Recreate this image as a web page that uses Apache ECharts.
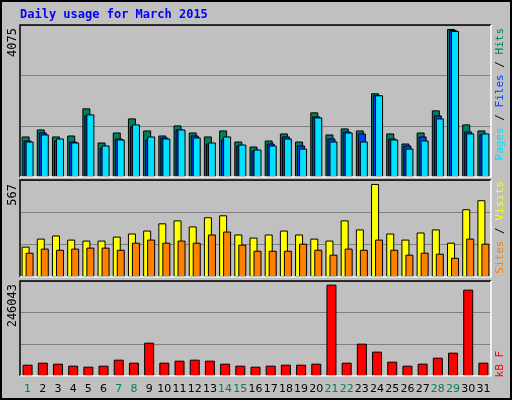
<!DOCTYPE html>
<html>
<head>
<meta charset="utf-8">
<script src="https://cdn.jsdelivr.net/npm/echarts@6/dist/echarts.min.js"></script>
<style>
  html, body { margin: 0; padding: 0; background: #c0c0c0; }
  #frame { width: 508px; height: 396px; border: 2px solid #000; background: #c0c0c0; position: relative; }
  #chart { position: absolute; left: -2px; top: -2px; width: 512px; height: 400px; }
</style>
</head>
<body>
<div id="frame"><div id="chart"></div></div>
<script>
// data
const days = ['1','2','3','4','5','6','7','8','9','10','11','12','13','14','15','16','17','18','19','20','21','22','23','24','25','26','27','28','29','30','31'];
const weekendDays = ['1','7','8','14','15','21','22','28','29'];
const hits  = [1116,1309,1116,1143,1890,950,1226,1613,1282,1143,1420,1226,1116,1282,977,839,1005,1199,977,1780,1171,1337,1282,2305,1199,922,1226,1835,4075,1448,1282];
const files = [1005,1226,1005,977,1696,811,1060,1392,1033,1088,1309,1143,922,1033,867,728,922,1116,867,1669,1060,1254,1199,2250,1060,867,1116,1696,4047,1254,1171];
const pages = [977,1171,1060,950,1724,867,1033,1448,1116,1060,1309,1088,950,1116,894,756,867,1060,783,1641,977,1226,977,2250,1033,783,1005,1613,4020,1199,1199];
const visits = [185,234,253,228,222,222,246,265,283,327,345,308,364,376,259,240,259,283,259,234,222,345,290,567,265,228,271,290,209,413,468];
const sites  = [148,173,166,173,179,179,166,209,228,209,222,209,259,277,197,160,160,160,203,166,136,173,166,228,166,136,148,142,117,234,203];
const kbytes = [30500,35900,33200,27800,25100,27800,44000,35900,89800,35900,41300,44000,41300,33200,27800,25100,27800,30500,30500,33200,246043,35900,87100,65600,38600,27800,33200,49400,62900,232600,35900];

const chart = echarts.init(document.getElementById('chart'), null, { renderer: 'canvas' });

const L = 20, W = 471;
const panels = [
  { top: 25, height: 152, max: 4185 },
  { top: 180, height: 97, max: 591 },
  { top: 281, height: 95, max: 255900 }
];
const mono = '"DejaVu Sans Mono", monospace';

const grids = panels.map(p => ({ left: L, width: W, top: p.top, height: p.height, show: false }));
const xAxes = panels.map((p, i) => ({
  type: 'category', gridIndex: i, data: days,
  axisLine: { show: false }, axisTick: { show: false },
  axisLabel: i === 2 ? {
    show: true, interval: 0, margin: 8, fontSize: 11, fontFamily: 'DejaVu Sans',
    color: (v) => weekendDays.includes(v) ? '#00805c' : '#000'
  } : { show: false }
}));
const yAxes = panels.map((p, i) => ({
  type: 'value', gridIndex: i, min: 0, max: p.max, interval: p.max / 3,
  axisLabel: { show: false }, axisLine: { show: false }, axisTick: { show: false },
  splitLine: { lineStyle: { color: '#808080', width: 1 } }
}));

const edge = { borderColor: '#000', borderWidth: 1 };
const series = [
  { name: 'Hits', type: 'bar', xAxisIndex: 0, yAxisIndex: 0, data: hits, barWidth: 8, barGap: '-75%', itemStyle: Object.assign({ color: '#00805c' }, edge) },
  { name: 'Files', type: 'bar', xAxisIndex: 0, yAxisIndex: 0, data: files, barWidth: 8, barGap: '-75%', itemStyle: Object.assign({ color: '#0040ff' }, edge) },
  { name: 'Pages', type: 'bar', xAxisIndex: 0, yAxisIndex: 0, data: pages, barWidth: 8, barGap: '-75%', itemStyle: Object.assign({ color: '#00e0ff' }, edge) },
  { name: 'Visits', type: 'bar', xAxisIndex: 1, yAxisIndex: 1, data: visits, barWidth: 8, barGap: '-50%', itemStyle: Object.assign({ color: '#ffff00' }, edge) },
  { name: 'Sites', type: 'bar', xAxisIndex: 1, yAxisIndex: 1, data: sites, barWidth: 8, barGap: '-50%', itemStyle: Object.assign({ color: '#ff8000' }, edge) },
  { name: 'kB F', type: 'bar', xAxisIndex: 2, yAxisIndex: 2, data: kbytes, barWidth: 10, itemStyle: Object.assign({ color: '#ff0000' }, edge) }
];

// panel frames: dark top/left, white bottom/right
const frames = [];
panels.forEach(p => {
  const x0 = L, y0 = p.top, x1 = L + W, y1 = p.top + p.height;
  frames.push({ type: 'polyline', shape: { points: [[x0, y1], [x0, y0], [x1, y0]] }, style: { stroke: '#000', lineWidth: 1.5, fill: null }, z: 10 });
  frames.push({ type: 'polyline', shape: { points: [[x1, y0], [x1, y1], [x0, y1]] }, style: { stroke: '#fff', lineWidth: 1.5, fill: null }, z: 10 });
});

function vText(x, y, text, extra) {
  return Object.assign({
    type: 'text', x: x, y: y, rotation: Math.PI / 2, z: 11,
    style: { text: text, align: 'right', verticalAlign: 'middle', font: '12px ' + mono, fill: '#000' }
  }, extra || {});
}

const labels = [
  { type: 'text', x: 20, y: 15, z: 11, style: { text: 'Daily usage for March 2015', verticalAlign: 'middle', font: 'bold 12px ' + mono, fill: '#0000ff' } },
  vText(13, 28, '4075'),
  vText(13, 184, '567'),
  vText(13, 284, '246043'),
  {
    type: 'text', x: 500, y: 28, rotation: Math.PI / 2, z: 11,
    style: {
      text: '{p|Pages}{k| / }{f|Files}{k| / }{h|Hits}', align: 'right', verticalAlign: 'middle',
      font: '11px ' + mono,
      rich: { p: { fill: '#00e0ff', font: '11px ' + mono }, f: { fill: '#0040ff', font: '11px ' + mono }, h: { fill: '#00805c', font: '11px ' + mono }, k: { fill: '#000', font: '11px ' + mono } }
    }
  },
  {
    type: 'text', x: 500, y: 181, rotation: Math.PI / 2, z: 11,
    style: {
      text: '{s|Sites}{k| / }{v|Visits}', align: 'right', verticalAlign: 'middle',
      font: '11px ' + mono,
      rich: { s: { fill: '#ff8000', font: '11px ' + mono }, v: { fill: '#ffff00', font: '11px ' + mono }, k: { fill: '#000', font: '11px ' + mono } }
    }
  },
  vText(500, 351, 'kB F', { style: { text: 'kB F', align: 'right', verticalAlign: 'middle', font: '11px ' + mono, fill: '#ff0000' } })
];

chart.setOption({
  animation: false,
  backgroundColor: 'transparent',
  grid: grids,
  xAxis: xAxes,
  yAxis: yAxes,
  series: series,
  graphic: frames.concat(labels)
});
</script>
</body>
</html>
